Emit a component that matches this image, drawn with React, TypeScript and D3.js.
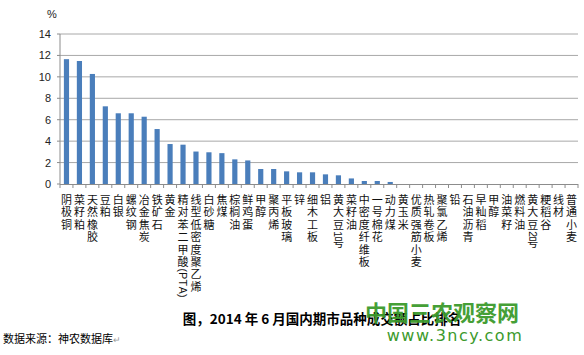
import React from "react";
import * as d3 from "d3";

const categories = [
  "阴极铜", "菜籽粕", "天然橡胶", "豆粕", "白银", "螺纹钢", "冶金焦炭", "铁矿石", "黄金",
  "精对苯二甲酸(PTA)", "线型低密度聚乙烯", "白砂糖", "焦煤", "棕榈油", "鲜鸡蛋", "甲醇",
  "聚丙烯", "平板玻璃", "锌", "细木工板", "铝", "黄大豆1号", "菜籽油", "中密度纤维板",
  "一号棉花", "动力煤", "黄玉米", "优质强筋小麦", "热轧卷板", "聚氯乙烯", "铅", "石油沥青",
  "早籼稻", "甲醇", "油菜籽", "燃料油", "黄大豆2号", "粳稻谷", "线材", "普通小麦",
];
const values = [
  11.65, 11.48, 10.27, 7.25, 6.6, 6.6, 6.28, 5.13, 3.73,
  3.67, 3.03, 2.96, 2.88, 2.3, 2.2, 1.4,
  1.4, 1.18, 1.09, 1.09, 0.9, 0.81, 0.52, 0.28,
  0.28, 0.19, 0, 0, 0, 0, 0, 0,
  0, 0, 0, 0, 0, 0, 0, 0,
];
const yTicks = [0, 2, 4, 6, 8, 10, 12, 14];
const title = "图，2014 年 6 月国内期市品种成交额占比排名";
const source = "数据来源：神农数据库";

function VerticalLabel({ cx, y0, label }: { cx: number; y0: number; label: string }) {
  const fs = 11;
  const adv = 12.4;
  let yy = y0;
  const spans: React.ReactNode[] = [];
  Array.from(label).forEach((ch, k) => {
    const ascii = ch.charCodeAt(0) < 128;
    if (ascii) {
      const w = /[A-Z]/.test(ch) ? 7.3 : ch === "(" || ch === ")" ? 3.8 : 6.2;
      spans.push(
        <tspan key={k} x={cx - 4} y={yy} rotate={90} fontSize={10.5}
          fontFamily="'Liberation Sans', Arial, sans-serif">{ch}</tspan>
      );
      yy += w;
    } else {
      spans.push(
        <tspan key={k} x={cx - fs / 2} y={yy + fs * 0.9}>{ch}</tspan>
      );
      yy += adv;
    }
  });
  return (
    <text fontSize={fs} fontFamily="'Noto Sans CJK SC', sans-serif" fill="#111">{spans}</text>
  );
}

export default function App() {
  const left = 60, right = 578, top = 34, bottom = 184;
  const y = d3.scaleLinear().domain([0, 14]).range([bottom, top]);
  const x = d3.scaleBand<string>().domain(categories.map((c, i) => i + "")).range([left, right]).paddingInner(0.6).paddingOuter(0.3);
  const step = x.step();
  const tickXs = d3.range(categories.length + 1).map((i) => left + step * i);
  return (
    <svg width={584} height={355} style={{ position: "absolute", left: 0, top: 0, background: "#fff" }}
      fontFamily="'Liberation Sans', Arial, sans-serif">
      {yTicks.map((t) => (
        <g key={t}>
          {t > 0 && <line x1={left} x2={right} y1={y(t)} y2={y(t)} stroke="#a8a8a8" strokeWidth={1} />}
          <line x1={left - 3} x2={left} y1={y(t)} y2={y(t)} stroke="#8c8c8c" />
          <text x={left - 9} y={y(t) + 4} textAnchor="end" fontSize={11} fill="#222">{t}</text>
        </g>
      ))}
      <text x={52} y={18} textAnchor="middle" fontSize={11} fill="#222">%</text>
      <line x1={left} x2={left} y1={top} y2={bottom} stroke="#8c8c8c" />
      {values.map((v, i) => (
        <rect key={i} x={x(i + "")} width={x.bandwidth()} y={y(v)} height={bottom - y(v)} fill="#4a7ebb" />
      ))}
      <line x1={left} x2={right} y1={bottom + 0.5} y2={bottom + 0.5} stroke="#8c8c8c" />
      {tickXs.map((tx, i) => (
        <line key={i} x1={tx} x2={tx} y1={bottom} y2={bottom + 4} stroke="#8c8c8c" />
      ))}
      {categories.map((c, i) => (
        <VerticalLabel key={i} cx={(x(i + "") as number) + x.bandwidth() / 2} y0={194} label={c} />
      ))}
      <text x={322} y={324} textAnchor="middle" fontSize={13.5} fontWeight="bold"
        fontFamily="'Noto Sans CJK SC', serif" fill="#000">{title}</text>
      <text x={3} y={343} fontSize={11} fontFamily="'Noto Sans CJK SC', sans-serif" fill="#000">
        {source}<tspan fill="#999" fontSize={9}>↵</tspan>
      </text>
      <text x={442} y={321} textAnchor="middle" fontSize={22} fontWeight="bold"
        fontFamily="'Noto Sans CJK SC', sans-serif" fill="#3c9a2c" opacity={0.95}>中国三农观察网</text>
      <text x={455} y={341} textAnchor="middle" fontSize={16} letterSpacing={1.5}
        fontFamily="'DejaVu Sans', sans-serif" fill="#3c9a2c">www.3ncy.com</text>
    </svg>
  );
}
